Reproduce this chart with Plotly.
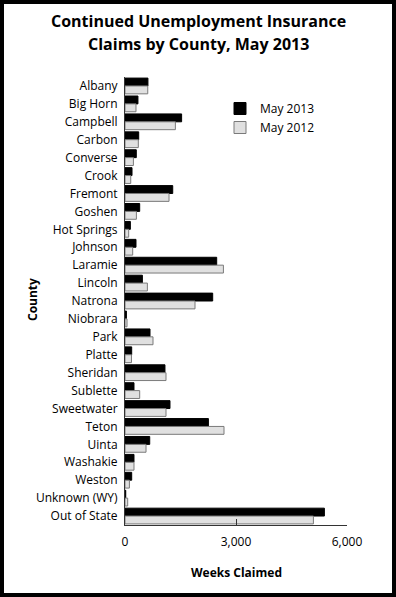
import plotly.graph_objects as go

counties = ["Albany", "Big Horn", "Campbell", "Carbon", "Converse", "Crook", "Fremont",
            "Goshen", "Hot Springs", "Johnson", "Laramie", "Lincoln", "Natrona", "Niobrara",
            "Park", "Platte", "Sheridan", "Sublette", "Sweetwater", "Teton", "Uinta",
            "Washakie", "Weston", "Unknown (WY)", "Out of State"]
may_2013 = [620, 350, 1530, 370, 305, 190, 1290, 397, 145, 297, 2478, 470, 2370, 38,
            676, 181, 1080, 243, 1216, 2254, 668, 243, 181, 20, 5389]
may_2012 = [615, 297, 1362, 360, 227, 155, 1190, 308, 100, 208, 2660, 605, 1892, 55,
            757, 175, 1108, 397, 1108, 2676, 568, 243, 119, 73, 5092]
x_ticks = [0, 3000, 6000]
x_tick_labels = ["0", "3,000", "6,000"]

FONT = "Open Sans"
W, H = 396, 597
L, R, T, B = 125, 49, 77, 72
pw, ph = W - L - R, H - T - B

fig = go.Figure()
fig.add_trace(go.Bar(y=counties, x=may_2013, name="May 2013", orientation="h",
                     marker=dict(color="#000000", line=dict(color="#000000", width=1))))
fig.add_trace(go.Bar(y=counties, x=may_2012, name="May 2012", orientation="h",
                     marker=dict(color="#e0e0e0", line=dict(color="#7a7a7a", width=1))))

def px2x(p):
    return (p - L) / pw

def py2y(p):
    return 1 - (p - T) / ph

inset = 2
fig.add_shape(type="rect", xref="paper", yref="paper",
              x0=px2x(inset), x1=px2x(W - inset), y0=py2y(H - inset), y1=py2y(inset),
              line=dict(color="black", width=4), fillcolor="rgba(0,0,0,0)", layer="above")

def label(text, x, y, size, angle=0):
    fig.add_annotation(text=text, xref="paper", yref="paper", x=px2x(x), y=py2y(y),
                       xanchor="center", yanchor="middle", textangle=angle,
                       showarrow=False, font=dict(family=FONT, size=size, color="black"))

label("<b>Continued Unemployment Insurance</b>", 198, 21, 16)
label("<b>Claims by County, May 2013</b>", 198, 44, 16)
label("<b>County</b>", 32, 300, 12, -90)
label("<b>Weeks Claimed</b>", 236, 572, 12)

fig.update_layout(
    width=W, height=H,
    margin=dict(l=L, r=R, t=T, b=B, pad=0),
    paper_bgcolor="white", plot_bgcolor="white",
    barmode="group", bargap=0.12, bargroupgap=0,
    font=dict(family=FONT, size=12, color="black"),
    legend=dict(x=px2x(220), y=py2y(94), xanchor="left", yanchor="top",
                xref="paper", yref="paper", bgcolor="rgba(0,0,0,0)",
                font=dict(family=FONT, size=12), itemwidth=30, tracegroupgap=0),
    showlegend=True,
)
fig.update_xaxes(range=[0, 6000], tickvals=x_ticks, ticktext=x_tick_labels,
                 showgrid=False, zeroline=False, showline=True, linecolor="#333333",
                 linewidth=1, ticks="inside", ticklen=6, tickcolor="#333333",
                 ticklabelstandoff=6, tickfont=dict(size=12))
fig.update_yaxes(autorange="reversed", showgrid=False, showline=True,
                 linecolor="#333333", linewidth=1, ticks="", ticklabelstandoff=4,
                 tickfont=dict(size=12))

fig.write_html("out.html")
